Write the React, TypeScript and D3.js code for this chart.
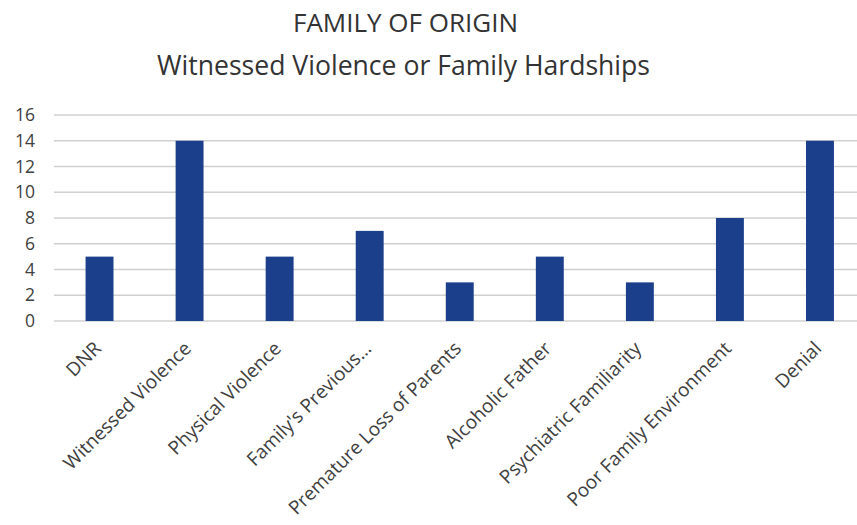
import React from "react";
import * as d3 from "d3";

const categories = [
  "DNR",
  "Witnessed Violence",
  "Physical Violence",
  "Family's Previous…",
  "Premature Loss of Parents",
  "Alcoholic Father",
  "Psychiatric Familiarity",
  "Poor Family Environment",
  "Denial",
];
const counts = [5, 14, 5, 7, 3, 5, 3, 8, 14];
const yTicks = [0, 2, 4, 6, 8, 10, 12, 14, 16];
const titleLines = ["FAMILY OF ORIGIN", "Witnessed Violence or Family Hardships"];

const W = 857;
const H = 525;
const FONT = "'Open Sans', 'Noto Sans', sans-serif";

export default function App() {
  const x = d3
    .scaleBand<string>()
    .domain(categories)
    .range([54.5, 865])
    .paddingInner(0.69)
    .paddingOuter(0.345);
  const y = d3.scaleLinear().domain([0, 16]).range([321, 115]);

  return (
    <svg
      width={W}
      height={H}
      style={{ position: "absolute", left: 0, top: 0, background: "#fff" }}
      fontFamily={FONT}
    >
      <text
        x={405.5}
        y={32}
        textAnchor="middle"
        fontSize={25}
        fill="#333"
        textLength={225}
        lengthAdjust="spacingAndGlyphs"
      >
        {titleLines[0]}
      </text>
      <text
        x={403.5}
        y={75}
        textAnchor="middle"
        fontSize={28}
        fill="#333"
        textLength={493}
        lengthAdjust="spacingAndGlyphs"
      >
        {titleLines[1]}
      </text>

      {yTicks.map((t) => (
        <g key={t}>
          <line x1={54} x2={W} y1={y(t)} y2={y(t)} stroke="#d0d0d0" strokeWidth={1.6} />
          <text
            x={35}
            y={y(t)}
            dy="0.35em"
            textAnchor="end"
            fontSize={17.5}
            fill="#404040"
          >
            {t}
          </text>
        </g>
      ))}

      {categories.map((c, i) => (
        <rect
          key={c}
          x={x(c)}
          y={y(counts[i])}
          width={x.bandwidth()}
          height={y(0) - y(counts[i])}
          fill="#1b3f8b"
        />
      ))}

      {categories.map((c) => {
        const cx = (x(c) as number) + x.bandwidth() / 2 - 2;
        const cy = 345;
        return (
          <text
            key={c}
            transform={`translate(${cx},${cy}) rotate(-45)`}
            textAnchor="end"
            fontSize={19}
            fill="#404040"
            dy="0.35em"
          >
            {c}
          </text>
        );
      })}
    </svg>
  );
}
